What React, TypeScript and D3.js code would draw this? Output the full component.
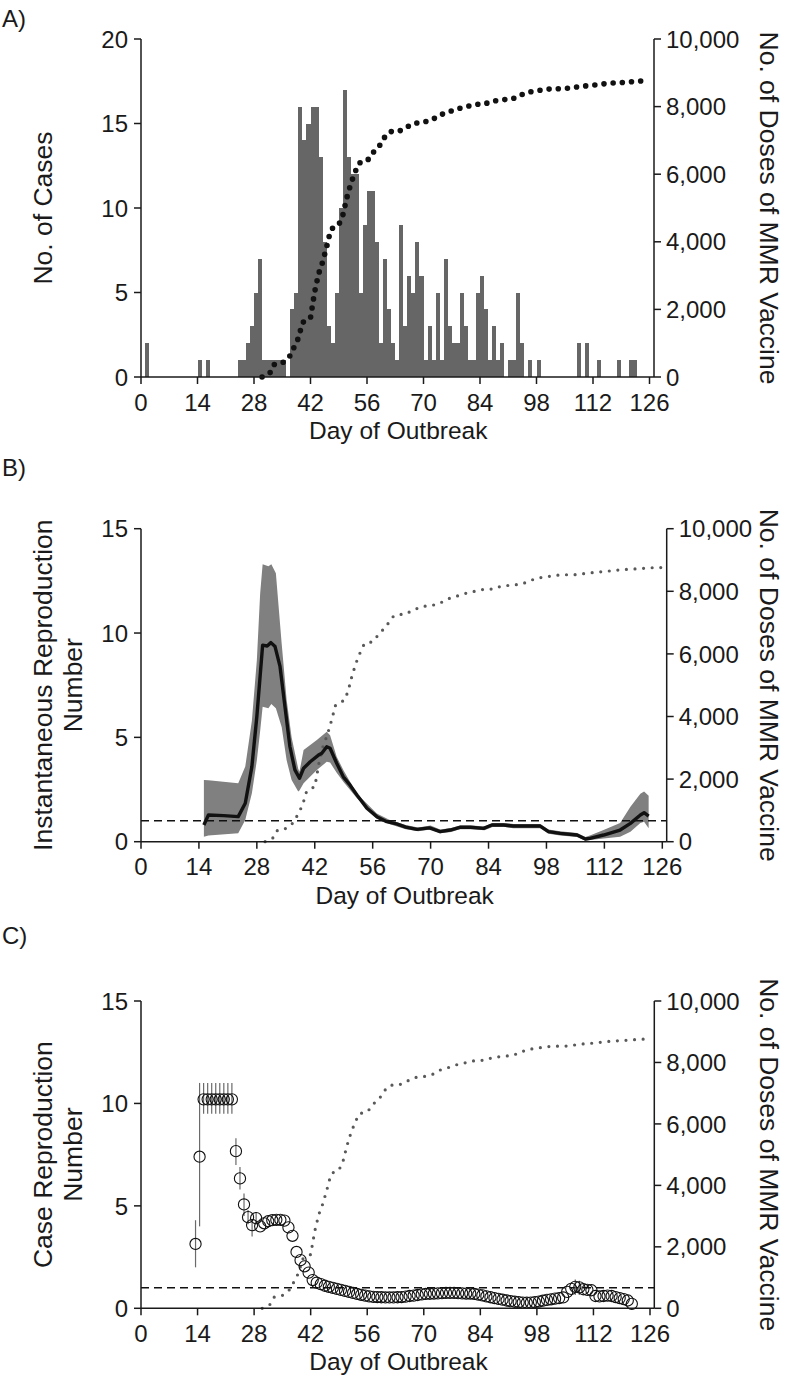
import React from "react";
import * as d3 from "d3";

const FONT = "'Liberation Sans', Arial, Helvetica, sans-serif";
const INK = "#1a1a1a";

// ---------- Panel A: daily cases (index = day of outbreak, 0..126)
const dailyCases = [
  0, 2, 0, 0, 0, 0, 0, 0, 0, 0,
  0, 0, 0, 0, 1, 0, 1, 0, 0, 0,
  0, 0, 0, 0, 1, 1, 2, 3, 5, 7,
  1, 1, 1, 1, 1, 1, 0, 4, 5, 16,
  14, 15, 16, 16, 13, 8, 3, 2, 5, 10,
  17, 13, 12, 12, 5, 9, 11, 11, 8, 2,
  7, 4, 2, 1, 9, 3, 6, 5, 8, 6,
  1, 3, 1, 5, 1, 7, 3, 2, 2, 5,
  3, 1, 1, 5, 6, 4, 1, 3, 1, 2,
  0, 1, 1, 5, 2, 0, 1, 0, 1, 0,
  0, 0, 0, 0, 0, 0, 0, 0, 2, 0,
  2, 0, 0, 1, 0, 0, 0, 0, 1, 0,
  0, 1, 1, 0, 0, 0, 0,
];

// ---------- Cumulative MMR doses
const vacDays = [30, 31, 32, 33, 34, 35, 36, 37, 38, 39, 40, 41, 42, 43, 44, 45, 46, 47, 48, 49, 50, 51, 52, 53, 54, 55, 56, 57, 58, 59, 60, 61, 62, 63, 64, 65, 66, 67, 68, 69, 70, 72, 74, 76, 78, 80, 82, 83, 85, 87, 90, 92, 94, 96, 98, 100, 103, 105, 108, 110, 112, 115, 117, 120, 122, 124, 126];
const vacDoses = [0, 60, 130, 370, 400, 420, 500, 640, 900, 1150, 1600, 1700, 1750, 2500, 3050, 3400, 3850, 4350, 4460, 4500, 4780, 5300, 5720, 6050, 6330, 6360, 6390, 6550, 6720, 6820, 7030, 7200, 7260, 7260, 7270, 7350, 7400, 7470, 7510, 7530, 7540, 7600, 7750, 7830, 7920, 7980, 8040, 8068, 8070, 8160, 8205, 8225, 8340, 8430, 8460, 8510, 8530, 8530, 8580, 8610, 8630, 8677, 8698, 8720, 8740, 8757, 8760];

// ---------- Panel B: instantaneous reproduction number
const rtDays = [15.2, 16.3, 20, 23.5, 25.2, 26.8, 28, 29.4, 30.5, 31.4, 32.4, 33.6, 34.8, 36, 37.2, 38.3, 39.3, 40.9, 42.9, 43.7, 44.9, 45.7, 47.3, 48.9, 50.5, 52.2, 54.6, 57, 59.4, 61.8, 64, 66.7, 69.7, 72.3, 74.7, 77.1, 79.6, 82.8, 84.8, 87.6, 90, 96.5, 98.5, 101.3, 105.4, 107.4, 108.5, 111.8, 115.8, 118.3, 120.7, 121.6, 122.7];
const rtMean = [0.8, 1.28, 1.25, 1.2, 1.84, 3.6, 6.0, 9.42, 9.38, 9.54, 9.35, 8.4, 6.47, 4.55, 3.44, 3.04, 3.52, 3.83, 4.15, 4.24, 4.55, 4.48, 3.76, 3.11, 2.72, 2.24, 1.6, 1.2, 0.96, 0.85, 0.7, 0.59, 0.66, 0.48, 0.56, 0.69, 0.69, 0.64, 0.8, 0.8, 0.75, 0.75, 0.48, 0.4, 0.32, 0.13, 0.16, 0.32, 0.56, 0.88, 1.28, 1.39, 1.23];

const bandDays = [15.2, 16.3, 23.5, 25.2, 26.8, 28, 28.8, 29.4, 30.8, 31.5, 32.6, 34, 35.2, 36.4, 38, 38.3, 39.3, 42.5, 44.9, 45.7, 47.3, 49, 52.2, 57, 60, 64, 67, 70, 72.3, 75, 77, 80, 83, 85, 88, 90, 96.5, 98.5, 101.3, 105.4, 107.4, 108.5, 111.8, 115.8, 118.3, 120.7, 121.6, 122.7];
const bandLo = [0.24, 0.3, 0.4, 1.04, 2.32, 3.9, 5.3, 6.47, 6.4, 6.6, 6.4, 5.5, 3.9, 2.96, 2.4, 2.45, 2.8, 3.44, 3.83, 3.8, 3.3, 2.85, 2.08, 1.1, 0.85, 0.6, 0.5, 0.58, 0.4, 0.47, 0.6, 0.6, 0.55, 0.7, 0.7, 0.65, 0.65, 0.38, 0.3, 0.22, 0.05, 0.08, 0.15, 0.24, 0.48, 0.9, 0.96, 0.64];
const bandHi = [2.96, 2.95, 2.8, 3.6, 5.8, 8.7, 11.9, 13.3, 13.2, 13.3, 12.86, 9.5, 6.8, 5.0, 3.5, 3.35, 4.39, 4.87, 5.27, 5.1, 4.07, 3.4, 2.3, 1.35, 1.05, 0.8, 0.68, 0.78, 0.58, 0.66, 0.78, 0.78, 0.73, 0.9, 0.9, 0.85, 0.85, 0.58, 0.5, 0.42, 0.22, 0.3, 0.56, 0.9, 1.68, 2.3, 2.4, 2.2];

// ---------- Panel C: case reproduction number (days 13..121)
const caseRDays = d3.range(13, 122);
const caseR = [
  3.14, 7.4, 10.2, 10.2, 10.2, 10.2, 10.2, 10.2, 10.2, 10.2, // 13-22
  7.67, 6.34, 5.07, 4.45, 4.06, 4.4, 4.0, 4.15, 4.25, 4.3, // 23-32
  4.32, 4.32, 4.28, 3.95, 3.54, 2.75, 2.35, 2.05, 1.74, 1.38, // 33-42
  1.25, 1.18, 1.1, 1.05, 1.0, 0.95, 0.9, 0.85, 0.8, 0.75, // 43-52
  0.7, 0.66, 0.62, 0.58, 0.56, 0.55, 0.54, 0.53, 0.53, 0.53, // 53-62
  0.54, 0.55, 0.57, 0.6, 0.62, 0.65, 0.68, 0.7, 0.71, 0.72, // 63-72
  0.73, 0.74, 0.75, 0.75, 0.75, 0.74, 0.73, 0.72, 0.72, 0.7, // 73-82
  0.67, 0.63, 0.58, 0.54, 0.5, 0.46, 0.42, 0.38, 0.35, 0.32, // 83-92
  0.3, 0.28, 0.27, 0.28, 0.3, 0.33, 0.37, 0.41, 0.44, 0.47, // 93-102
  0.5, 0.53, 0.8, 0.95, 1.05, 1.02, 0.93, 0.9, 0.88, 0.6, // 103-112
  0.58, 0.6, 0.62, 0.6, 0.55, 0.5, 0.45, 0.38, 0.22, // 113-121
];
const errDays = [13, 14, 15, 16, 17, 18, 19, 20, 21, 22, 23, 24, 25, 26, 27, 28, 107, 108];
const errLo = [2.0, 4.0, 9.5, 9.5, 9.5, 9.5, 9.5, 9.5, 9.5, 9.5, 7.0, 5.8, 4.5, 4.1, 3.5, 4.1, 0.65, 0.65];
const errHi = [4.3, 11.0, 11.0, 11.0, 11.0, 11.0, 11.0, 11.0, 11.0, 11.0, 8.3, 6.9, 5.6, 4.8, 4.3, 4.7, 1.4, 1.35];

const xTicks = [0, 14, 28, 42, 56, 70, 84, 98, 112, 126];
const doseTicks = [0, 2000, 4000, 6000, 8000, 10000];
const casesTicks = [0, 5, 10, 15, 20];
const rTicks = [0, 5, 10, 15];

const fmt = d3.format(",");

type Geo = { x0: number; x126: number; right: number; top: number; base: number; yMax: number };

const geoA: Geo = { x0: 141, x126: 649.5, right: 654, top: 39, base: 377, yMax: 20 };
const geoB: Geo = { x0: 141, x126: 662.3, right: 666.7, top: 528.7, base: 841.7, yMax: 15 };
const geoC: Geo = { x0: 141, x126: 650, right: 654.3, top: 1001, base: 1308.3, yMax: 15 };

const TICK_FS = 24;
const XTITLE_FS = 24.5;
const YTITLE_FS = 26.5;

function Frame({ g, leftTicks, leftTitle, label, labelY }: { g: Geo; leftTicks: number[]; leftTitle: string[]; label: string; labelY: number }) {
  const x = d3.scaleLinear().domain([0, 126]).range([g.x0, g.x126]);
  const y = d3.scaleLinear().domain([0, g.yMax]).range([g.base, g.top]);
  const yr = d3.scaleLinear().domain([0, 10000]).range([g.base, g.top]);
  const midY = (g.top + g.base) / 2;
  const titleXs = leftTitle.length === 1 ? [42] : [42, 72];
  return (
    <g fontFamily={FONT} fill={INK}>
      <text x={2} y={labelY} fontSize={24}>{label}</text>
      <line x1={g.x0} x2={g.x0} y1={g.top} y2={g.base} stroke={INK} strokeWidth={1.5} />
      <line x1={g.right} x2={g.right} y1={g.top} y2={g.base} stroke={INK} strokeWidth={1.5} />
      <line x1={g.x0} x2={g.right} y1={g.base} y2={g.base} stroke={INK} strokeWidth={1.5} />
      {leftTicks.map((t) => (
        <g key={"l" + t}>
          <line x1={g.x0 - 7} x2={g.x0} y1={y(t)} y2={y(t)} stroke={INK} strokeWidth={1.5} />
          <text x={g.x0 - 13} y={y(t)} dy="0.36em" textAnchor="end" fontSize={TICK_FS}>{t}</text>
        </g>
      ))}
      {doseTicks.map((t) => (
        <g key={"r" + t}>
          <line x1={g.right} x2={g.right + 7} y1={yr(t)} y2={yr(t)} stroke={INK} strokeWidth={1.5} />
          <text x={g.right + 12} y={yr(t)} dy="0.36em" textAnchor="start" fontSize={TICK_FS}>{fmt(t)}</text>
        </g>
      ))}
      {xTicks.map((t) => (
        <g key={"x" + t}>
          <line x1={x(t)} x2={x(t)} y1={g.base} y2={g.base + 7} stroke={INK} strokeWidth={1.5} />
          <text x={x(t)} y={g.base + 33.7} textAnchor="middle" fontSize={TICK_FS}>{t}</text>
        </g>
      ))}
      <text x={(g.x0 + g.x126) / 2 + 3} y={g.base + 62} textAnchor="middle" fontSize={XTITLE_FS}>Day of Outbreak</text>
      {leftTitle.map((s, i) => (
        <text key={s} transform={`translate(${titleXs[i]},${midY}) rotate(-90)`} dy="0.36em" textAnchor="middle" fontSize={YTITLE_FS}>{s}</text>
      ))}
      <text transform={`translate(770,${midY}) rotate(90)`} dy="0.36em" textAnchor="middle" fontSize={YTITLE_FS}>No. of Doses of MMR Vaccine</text>
    </g>
  );
}

function dosePath(g: Geo) {
  const x = d3.scaleLinear().domain([0, 126]).range([g.x0, g.x126]);
  const yr = d3.scaleLinear().domain([0, 10000]).range([g.base, g.top]);
  return d3.line<number>().x((d) => x(vacDays[d])).y((d) => yr(vacDoses[d]))(vacDays.map((_, i) => i)) || "";
}

export default function App() {
  const xA = d3.scaleLinear().domain([0, 126]).range([geoA.x0, geoA.x126]);
  const yA = d3.scaleLinear().domain([0, 20]).range([geoA.base, geoA.top]);

  const xB = d3.scaleLinear().domain([0, 126]).range([geoB.x0, geoB.x126]);
  const yB = d3.scaleLinear().domain([0, 15]).range([geoB.base, geoB.top]);
  const area = d3.area<number>().x((i) => xB(bandDays[i])).y0((i) => yB(bandLo[i])).y1((i) => yB(bandHi[i]));
  const bandPath = area(bandDays.map((_, i) => i)) || "";
  const rtPath = d3.line<number>().x((i) => xB(rtDays[i])).y((i) => yB(rtMean[i]))(rtDays.map((_, i) => i)) || "";

  const xC = d3.scaleLinear().domain([0, 126]).range([geoC.x0, geoC.x126]);
  const yC = d3.scaleLinear().domain([0, 15]).range([geoC.base, geoC.top]);

  return (
    <svg width={793} height={1386} viewBox="0 0 793 1386" style={{ position: "absolute", left: 0, top: 0, background: "#fff" }}>
      <rect x={0} y={0} width={793} height={1386} fill="#fff" />
      {/* Panel A */}
      <g shapeRendering="crispEdges">
        {dailyCases.map((v, d) =>
          v > 0 ? (
            <rect key={d} x={xA(d)} width={xA(d + 1) - xA(d)} y={yA(v)} height={geoA.base - yA(v)} fill="#666666" />
          ) : null
        )}
      </g>
      <path d={dosePath(geoA)} fill="none" stroke="#111" strokeWidth={5.6} strokeDasharray="0 9.2" strokeLinecap="round" />
      <Frame g={geoA} leftTicks={casesTicks} leftTitle={["No. of Cases"]} label="A)" labelY={27} />

      {/* Panel B */}
      <path d={bandPath} fill="#808080" />
      <line x1={geoB.x0} x2={geoB.right} y1={yB(1)} y2={yB(1)} stroke="#111" strokeWidth={1.5} strokeDasharray="8 5" />
      <path d={dosePath(geoB)} fill="none" stroke="#595959" strokeWidth={3.2} strokeDasharray="0 8.6" strokeLinecap="round" />
      <path d={rtPath} fill="none" stroke="#111" strokeWidth={3.4} strokeLinejoin="round" />
      <Frame g={geoB} leftTicks={rTicks} leftTitle={["Instantaneous Reproduction", "Number"]} label="B)" labelY={476} />

      {/* Panel C */}
      <line x1={geoC.x0} x2={geoC.right} y1={yC(1)} y2={yC(1)} stroke="#111" strokeWidth={1.5} strokeDasharray="8 5" />
      <path d={dosePath(geoC)} fill="none" stroke="#595959" strokeWidth={3.2} strokeDasharray="0 8.6" strokeLinecap="round" />
      {errDays.map((d, i) => (
        <line key={"e" + i} x1={xC(d + 0.5)} x2={xC(d + 0.5)} y1={yC(errLo[i])} y2={yC(errHi[i])} stroke="#6a6a6a" strokeWidth={1.2} />
      ))}
      {caseRDays.map((d, i) => (
        <circle key={"c" + d} cx={xC(d + 0.5)} cy={yC(caseR[i])} r={5.6} fill="none" stroke="#111" strokeWidth={1.1} />
      ))}
      <Frame g={geoC} leftTicks={rTicks} leftTitle={["Case Reproduction", "Number"]} label="C)" labelY={944} />
    </svg>
  );
}
